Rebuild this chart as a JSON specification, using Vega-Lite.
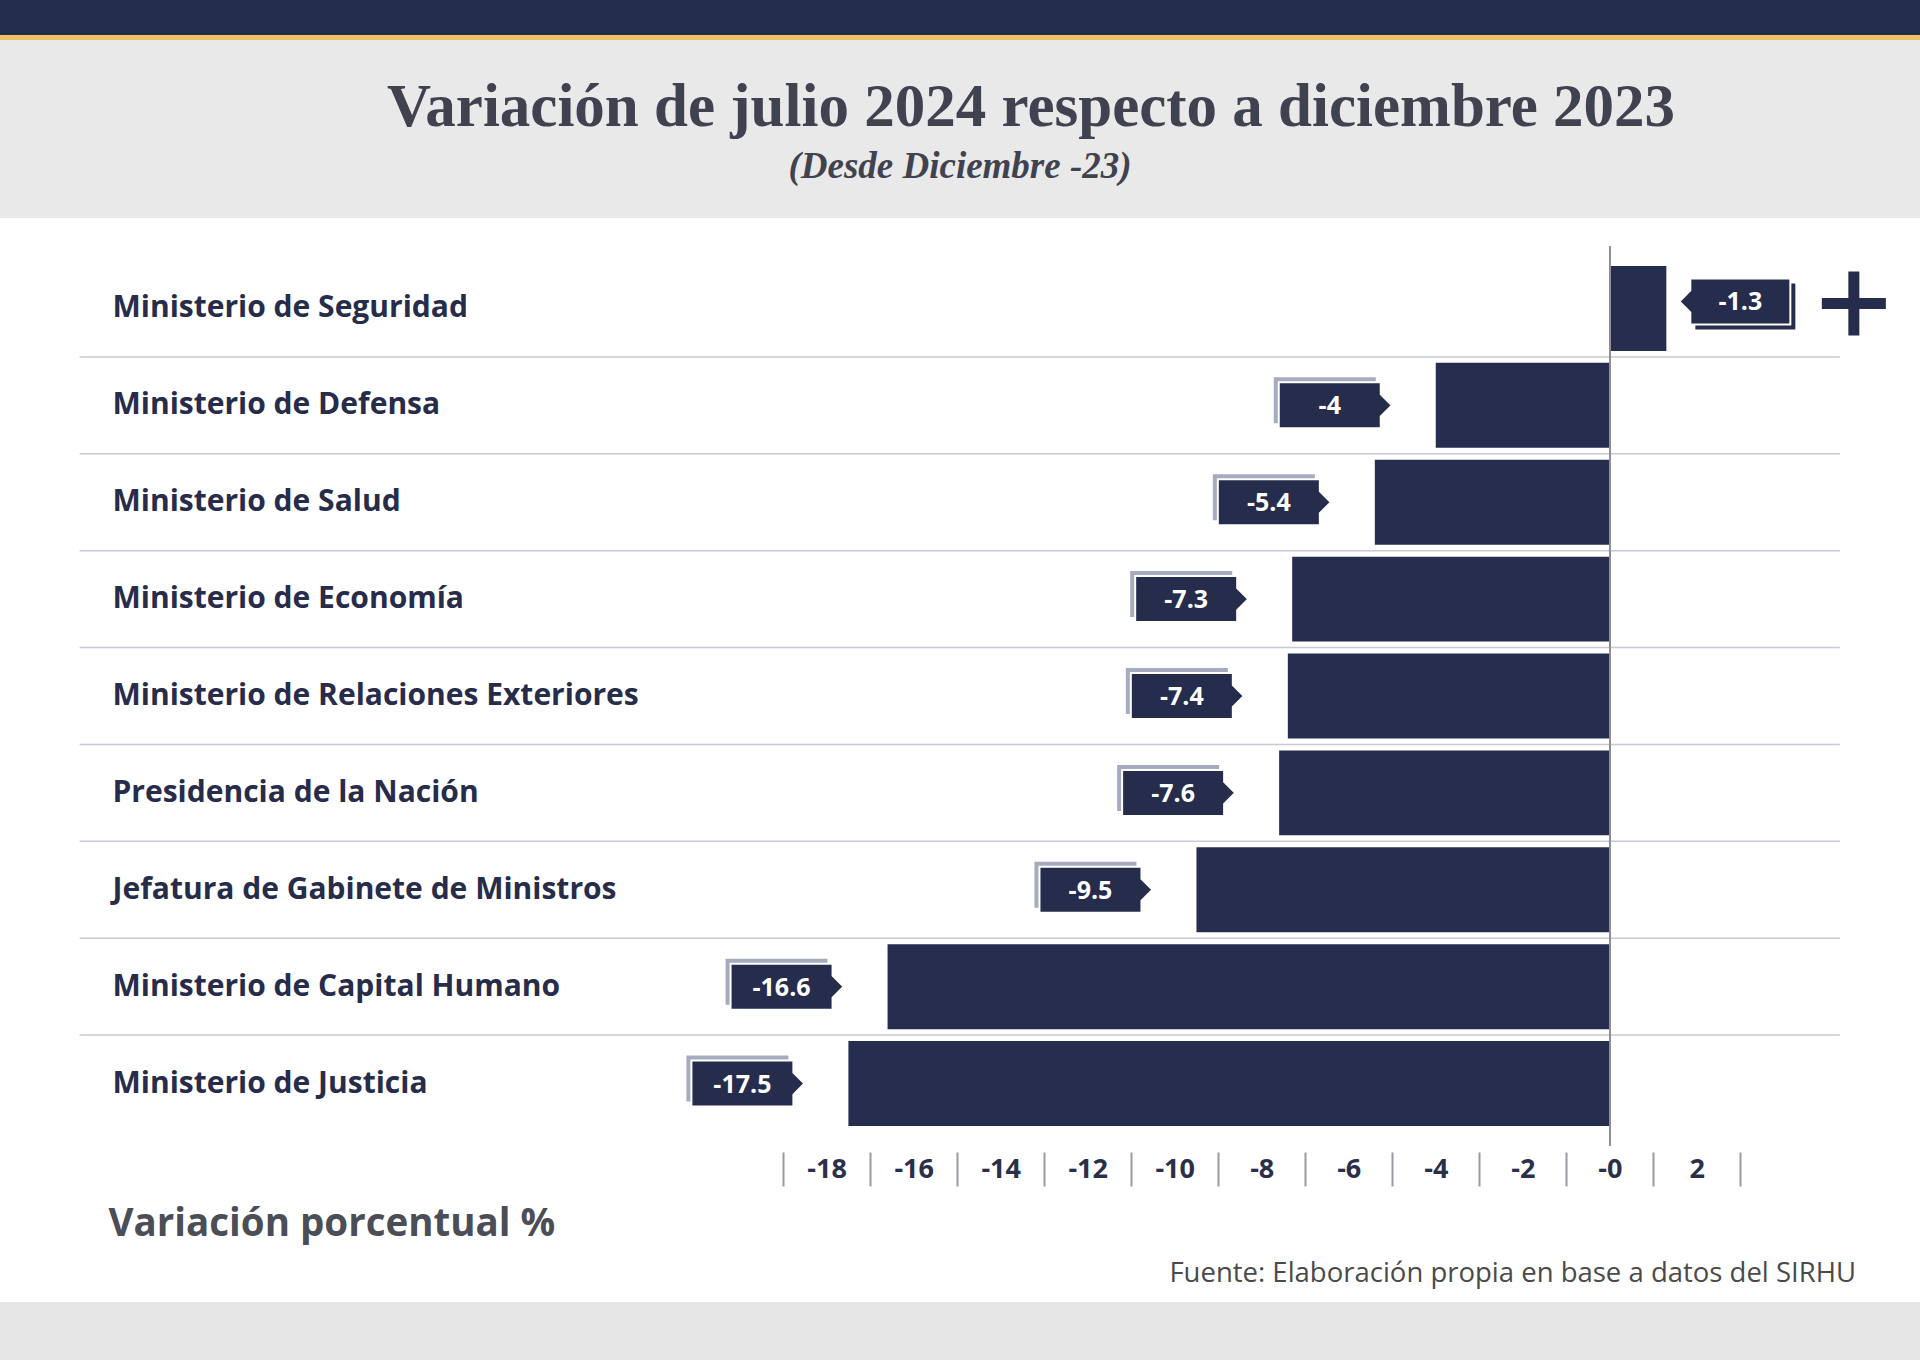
{
  "$schema": "https://vega.github.io/schema/vega-lite/v6.json",
  "background": "#ffffff",
  "padding": 0,
  "config": {"view": {"stroke": null}, "font": "Open Sans"},
  "datasets": {
    "blank": [{}],
    "header": [{"title": "Variación de julio 2024 respecto a diciembre 2023", "subtitle": "(Desde Diciembre -23)"}],
    "rows": [
      {"m": "Ministerio de Seguridad", "value": 1.3, "label": "-1.3"},
      {"m": "Ministerio de Defensa", "value": -4, "label": "-4"},
      {"m": "Ministerio de Salud", "value": -5.4, "label": "-5.4"},
      {"m": "Ministerio de Economía", "value": -7.3, "label": "-7.3"},
      {"m": "Ministerio de Relaciones Exteriores", "value": -7.4, "label": "-7.4"},
      {"m": "Presidencia de la Nación", "value": -7.6, "label": "-7.6"},
      {"m": "Jefatura de Gabinete de Ministros", "value": -9.5, "label": "-9.5"},
      {"m": "Ministerio de Capital Humano", "value": -16.6, "label": "-16.6"},
      {"m": "Ministerio de Justicia", "value": -17.5, "label": "-17.5"}
    ]
  },
  "spacing": 27,
  "vconcat": [
    {
      "spacing": 0,
      "vconcat": [
        {"width": 1920, "height": 35, "view": {"fill": "#252d4e"}, "data": {"name": "blank"}, "mark": {"type": "text", "text": "", "fontSize": 1}},
        {"width": 1920, "height": 5, "view": {"fill": "#eec264"}, "data": {"name": "blank"}, "mark": {"type": "text", "text": "", "fontSize": 1}},
        {
          "width": 1920, "height": 178, "view": {"fill": "#e9e9e9"},
          "data": {"name": "header"},
          "layer": [
            {"mark": {"type": "text", "font": "Liberation Serif", "fontSize": 61, "fontWeight": "bold", "color": "#40434f", "baseline": "alphabetic", "align": "center", "dx": 71, "dy": -3},
             "encoding": {"text": {"field": "title"}}},
            {"mark": {"type": "text", "font": "Liberation Serif", "fontSize": 37, "fontWeight": "bold", "fontStyle": "italic", "color": "#40434f", "baseline": "alphabetic", "align": "center", "dy": 49},
             "encoding": {"text": {"field": "subtitle"}}}
          ]
        }
      ]
    },
    {
      "spacing": 15,
      "vconcat": [
        {
          "width": 1920, "height": 900,
          "data": {"name": "rows"},
          "title": {"text": "Fuente: Elaboración propia en base a datos del SIRHU", "orient": "bottom", "anchor": "end", "fontSize": 27.5, "fontWeight": 500, "font": "Open Sans", "color": "#4a4a4a", "offset": 17, "dx": -64},
          "layer": [
            {
              "transform": [{"filter": "datum.m != 'Ministerio de Seguridad'"}],
              "mark": {"type": "rule", "color": "#c9c9d5", "strokeWidth": 1.5},
              "encoding": {
                "y": {"field": "m", "type": "nominal", "bandPosition": -0.07},
                "x": {"datum": -35.17},
                "x2": {"datum": 5.29}
              }
            },
            {
              "mark": {"type": "bar", "color": "#262d4e"},
              "encoding": {
                "y": {
                  "field": "m", "type": "nominal",
                  "scale": {"domain": ["Ministerio de Seguridad", "Ministerio de Defensa", "Ministerio de Salud", "Ministerio de Economía", "Ministerio de Relaciones Exteriores", "Presidencia de la Nación", "Jefatura de Gabinete de Ministros", "Ministerio de Capital Humano", "Ministerio de Justicia"], "paddingInner": 0.123, "paddingOuter": 0.206},
                  "axis": {"title": null, "domain": false, "ticks": false, "tickSize": 0, "labelAlign": "left", "labelPadding": -112, "labelFontSize": 30, "labelFontWeight": "bold", "labelColor": "#262c4a", "labelFont": "Open Sans", "labelLimit": 1000, "labelBaseline": "middle"}
                },
                "x": {
                  "field": "value", "type": "quantitative",
                  "scale": {"domain": [-37, 7.13], "nice": false},
                  "axis": {"title": "Variación porcentual %", "titleX": 108, "titleY": 71, "titleAlign": "left", "titleBaseline": "middle", "titleFontSize": 38.5, "titleFontWeight": "bold", "titleColor": "#4b4d57", "titleFont": "Open Sans",
                           "values": [-18, -16, -14, -12, -10, -8, -6, -4, -2, 0, 2, 4],
                           "labelExpr": "datum.value > 3 ? '' : (datum.value == 0 ? '-0' : '' + datum.value)",
                           "tickOffset": -43.5, "labelOffset": 43.5, "tickSize": 34, "tickColor": "#9a9aa2", "tickWidth": 2,
                           "labelPadding": -17, "labelBaseline": "middle", "labelFontSize": 27, "labelFontWeight": "bold", "labelColor": "#2a2f4a", "labelFont": "Open Sans",
                           "domain": false, "grid": false, "offset": 6, "labelFlush": false, "labelOverlap": false}
                },
                "x2": {"datum": 0}
              }
            },
            {
              "mark": {"type": "rule", "color": "#8e8e96", "strokeWidth": 1.5},
              "encoding": {"x": {"datum": 0}}
            },
            {
              "transform": [{"filter": "datum.value < 0"}],
              "mark": {"type": "point", "shape": "M -162 -28 L -60 -28 L -60 18 L -162 18 Z", "size": 4, "filled": true, "fill": "#a6abc0", "strokeWidth": 0, "opacity": 1},
              "encoding": {"x": {"field": "value", "type": "quantitative"}, "y": {"field": "m", "type": "nominal"}}
            },
            {
              "transform": [{"filter": "datum.value < 0"}],
              "mark": {"type": "point", "shape": "M -44 0 L -55 -11 L -55 -23 L -157 -23 L -157 23 L -55 23 L -55 11 Z", "size": 4, "filled": true, "fill": "#252c4c", "stroke": "#ffffff", "strokeWidth": 2, "opacity": 1},
              "encoding": {"x": {"field": "value", "type": "quantitative"}, "y": {"field": "m", "type": "nominal"}}
            },
            {
              "transform": [{"filter": "datum.value < 0"}],
              "mark": {"type": "text", "dx": -106, "dy": 1, "color": "#ffffff", "fontSize": 25, "fontWeight": "bold", "font": "Open Sans", "align": "center", "baseline": "middle"},
              "encoding": {"x": {"field": "value", "type": "quantitative"}, "y": {"field": "m", "type": "nominal"}, "text": {"field": "label"}}
            },
            {
              "transform": [{"filter": "datum.value > 0"}],
              "mark": {"type": "point", "shape": "M 29 -25 L 129 -25 L 129 21 L 29 21 Z", "size": 4, "filled": true, "fill": "#252c4c", "strokeWidth": 0, "opacity": 1},
              "encoding": {"x": {"field": "value", "type": "quantitative"}, "y": {"field": "m", "type": "nominal"}}
            },
            {
              "transform": [{"filter": "datum.value > 0"}],
              "mark": {"type": "point", "shape": "M 13 -7 L 24 -18 L 24 -30 L 124 -30 L 124 16 L 24 16 L 24 4 Z", "size": 4, "filled": true, "fill": "#252c4c", "stroke": "#ffffff", "strokeWidth": 2, "opacity": 1},
              "encoding": {"x": {"field": "value", "type": "quantitative"}, "y": {"field": "m", "type": "nominal"}}
            },
            {
              "transform": [{"filter": "datum.value > 0"}],
              "mark": {"type": "text", "dx": 74, "dy": -6, "color": "#ffffff", "fontSize": 25, "fontWeight": "bold", "font": "Open Sans", "align": "center", "baseline": "middle"},
              "encoding": {"x": {"field": "value", "type": "quantitative"}, "y": {"field": "m", "type": "nominal"}, "text": {"field": "label"}}
            },
            {
              "transform": [{"filter": "datum.value > 0"}],
              "mark": {"type": "point", "shape": "M 155.5 -10.5 L 219.5 -10.5 L 219.5 0.5 L 155.5 0.5 Z M 182 -37 L 193 -37 L 193 27 L 182 27 Z", "size": 4, "filled": true, "fill": "#252c4c", "strokeWidth": 0, "opacity": 1},
              "encoding": {"x": {"field": "value", "type": "quantitative"}, "y": {"field": "m", "type": "nominal"}}
            }
          ]
        },
        {"width": 1920, "height": 60, "view": {"fill": "#e6e6e6"}, "data": {"name": "blank"}, "mark": {"type": "text", "text": "", "fontSize": 1}}
      ]
    }
  ]
}
